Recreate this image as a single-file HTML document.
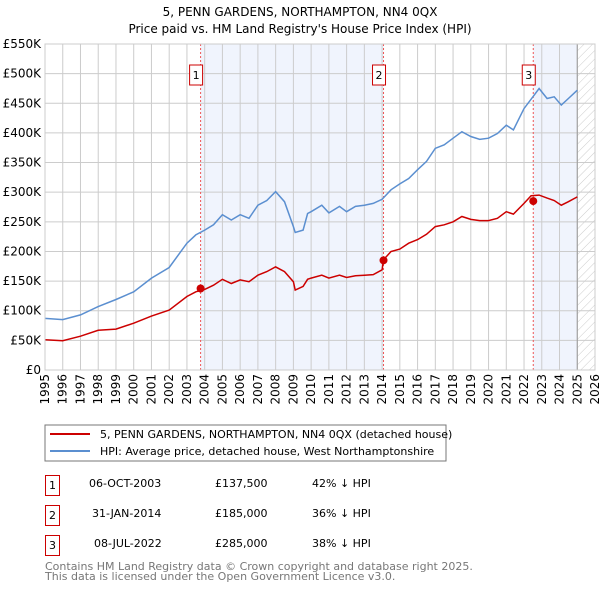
<!DOCTYPE html>
<html><head><meta charset="utf-8"><style>
body{margin:0;background:#fff;font-family:"DejaVu Sans","Liberation Sans",sans-serif;}
svg text{font-family:"DejaVu Sans","Liberation Sans",sans-serif;}
</style></head><body>
<svg id="chart" width="600" height="590" xmlns="http://www.w3.org/2000/svg">
<defs><pattern id="hatch" width="6" height="6" patternUnits="userSpaceOnUse" patternTransform="rotate(45)"><line x1="0" y1="0" x2="0" y2="6" stroke="#ccc" stroke-width="1"/></pattern></defs>
<text x="300" y="16" text-anchor="middle" font-size="12">5, PENN GARDENS, NORTHAMPTON, NN4 0QX</text>
<text x="300" y="33" text-anchor="middle" font-size="12">Price paid vs. HM Land Registry's House Price Index (HPI)</text>
<g id="plot"></g>
<rect x="45" y="425" width="401" height="36" fill="#fff" stroke="#777"/>
<line x1="50" y1="434" x2="90" y2="434" stroke="#cc0000" stroke-width="2"/>
<text x="100" y="438" font-size="11">5, PENN GARDENS, NORTHAMPTON, NN4 0QX (detached house)</text>
<line x1="50" y1="451" x2="90" y2="451" stroke="#5b8fd0" stroke-width="2"/>
<text x="100" y="455" font-size="11">HPI: Average price, detached house, West Northamptonshire</text>
<g font-size="11">
<rect x="45.5" y="475.5" width="14" height="20" fill="none" stroke="#c00"/><text x="52.5" y="489" text-anchor="middle">1</text>
<text x="89" y="487">06-OCT-2003</text><text x="215" y="487">£137,500</text><text x="312" y="487">42% ↓ HPI</text>
<rect x="45.5" y="505.5" width="14" height="20" fill="none" stroke="#c00"/><text x="52.5" y="519" text-anchor="middle">2</text>
<text x="92" y="517">31-JAN-2014</text><text x="215" y="517">£185,000</text><text x="312" y="517">36% ↓ HPI</text>
<rect x="45.5" y="535.5" width="14" height="20" fill="none" stroke="#c00"/><text x="52.5" y="549" text-anchor="middle">3</text>
<text x="94" y="547">08-JUL-2022</text><text x="215" y="547">£285,000</text><text x="312" y="547">38% ↓ HPI</text>
</g>
<text x="45" y="570" font-size="11" fill="#777">Contains HM Land Registry data © Crown copyright and database right 2025.</text>
<text x="45" y="580" font-size="11" fill="#777">This data is licensed under the Open Government Licence v3.0.</text>
</svg>
<script>
const hpiT=[1995,1996,1997,1998,1999,2000,2001,2002,2003,2003.5,2004,2004.5,2005,2005.5,2006,2006.5,2007,2007.5,2008,2008.5,2009,2009.1,2009.55,2009.8,2010,2010.6,2011,2011.6,2012,2012.5,2013,2013.5,2014,2014.5,2015,2015.5,2016,2016.5,2017,2017.5,2018,2018.5,2019,2019.5,2020,2020.5,2021,2021.4,2022,2022.5,2022.85,2023.3,2023.7,2024.1,2024.5,2025];
const hpiV=[87,85,93,107,119,132,155,173,214,228,236,245,262,253,262,256,278,286,301,284,242,232,236,264,267,278,265,276,267,276,278,281,288,304,314,323,338,352,374,380,391,402,394,389,391,399,413,405,441,461,475,458,461,447,458,472];
const priceT=[1995,1996,1997,1998,1999,2000,2001,2002,2003,2003.5,2004,2004.5,2005,2005.5,2006,2006.5,2007,2007.5,2008,2008.5,2009,2009.1,2009.55,2009.8,2010,2010.6,2011,2011.6,2012,2012.5,2013,2013.5,2014,2014.08,2014.5,2015,2015.5,2016,2016.5,2017,2017.5,2018,2018.5,2019,2019.5,2020,2020.5,2021,2021.4,2022,2022.4,2022.85,2023.3,2023.7,2024.1,2024.5,2025];
const priceV=[51,49.5,57,67,69,79,91,101,124,132,136,143,153,146,152,149,160,166,174,166,149,135,141,153,155,160,155,160,156,159,160,161,169,186,200,204,214,220,229,242,245,250,259,254,252,252,256,267,263,281,294,295,290,286,278,284,292];
const saleT=[2003.77,2014.08,2022.52];
const saleV=[137.5,185,285];
const saleLabels=["1","2","3"];
const yTicks=[0,50,100,150,200,250,300,350,400,450,500,550];
const xTicks=[1995,1996,1997,1998,1999,2000,2001,2002,2003,2004,2005,2006,2007,2008,2009,2010,2011,2012,2013,2014,2015,2016,2017,2018,2019,2020,2021,2022,2023,2024,2025,2026];
const X0=45,X1=595,Y0=370,Y1=44;
const xs=t=>X0+(t-1995)/31*(X1-X0);
const ys=v=>Y0-v/550*(Y0-Y1);
const NS="http://www.w3.org/2000/svg";
const g=document.getElementById('plot');
function mk(tag,attrs){const e=document.createElementNS(NS,tag);for(const k in attrs)e.setAttribute(k,attrs[k]);g.appendChild(e);return e;}
let r=mk('rect',{x:xs(saleT[0]),y:Y1,width:xs(saleT[1])-xs(saleT[0]),height:Y0-Y1,fill:'#f0f4fd'});


r=mk('rect',{x:xs(saleT[2]),y:Y1,width:xs(2025)-xs(saleT[2]),height:Y0-Y1,fill:'#f0f4fd'});


r=mk('rect',{x:xs(2025),y:Y1,width:X1-xs(2025),height:Y0-Y1,fill:'url(#hatch)'});


yTicks.forEach(v=>{
 const l=mk('line',{x1:X0,x2:X1,y1:ys(v),y2:ys(v),stroke:'#ccc','stroke-width':1});
 
 
 const t=mk('text',{x:X0-4,y:ys(v)+4,'text-anchor':'end','font-size':12});
 t.textContent=v===0?'£0':'£'+v+'K';
 
 
});
xTicks.forEach(y=>{
 const l=mk('line',{x1:xs(y),x2:xs(y),y1:Y1,y2:Y0,stroke:'#ccc','stroke-width':1});
 
 
 const t=mk('text',{x:0,y:0,'text-anchor':'end','font-size':12,transform:`translate(${xs(y)+4},374) rotate(-90)`});
 t.textContent=y;
 
 
});
let ln=mk('line',{x1:xs(2025),x2:xs(2025),y1:Y1,y2:Y0,stroke:'#999','stroke-width':1});


saleT.forEach((t,i)=>{
 const l=mk('line',{x1:xs(t),x2:xs(t),y1:Y1,y2:Y0,stroke:'#e55','stroke-width':1,'stroke-dasharray':'2,2'});
 
 
});
const path=(T,V)=>T.map((t,i)=>(i?'L':'M')+xs(t).toFixed(1)+','+ys(V[i]).toFixed(1)).join('');
let p=mk('path',{d:path(hpiT,hpiV),fill:'none',stroke:'#5b8fd0','stroke-width':1.5});


p=mk('path',{d:path(priceT,priceV),fill:'none',stroke:'#cc0000','stroke-width':1.5});


saleT.forEach((t,i)=>{
 const c=mk('circle',{cx:xs(t),cy:ys(saleV[i]),r:4,fill:'#cc0000'});
 
 
 const b=mk('rect',{x:xs(t)-11,y:65,width:13,height:20,fill:'#fff',stroke:'#c00'});
 
 
 const tx=mk('text',{x:xs(t)-4.5,y:79,'text-anchor':'middle','font-size':11});
 tx.textContent=saleLabels[i];
 
 
});
const fr=mk('rect',{x:X0,y:Y1,width:X1-X0,height:Y0-Y1,fill:'none',stroke:'#ccc'});


</script>
</body></html>
